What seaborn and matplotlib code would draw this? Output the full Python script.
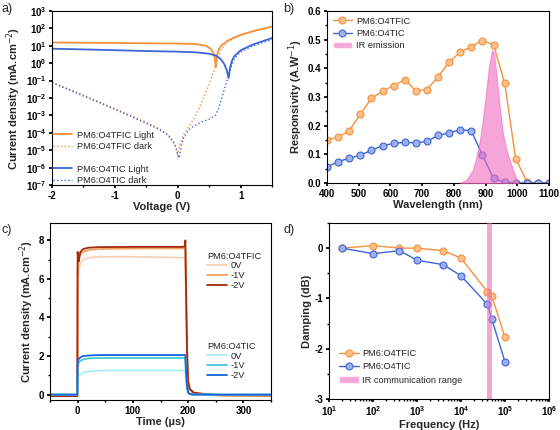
import numpy as np
import pandas as pd
import matplotlib
matplotlib.use('Agg')
import matplotlib.pyplot as plt
import seaborn as sns
from matplotlib.lines import Line2D
from matplotlib.patches import Patch
from matplotlib.ticker import LogLocator, MultipleLocator, NullFormatter

# ---------------- a) J-V curves (log scale) ----------------
v_tfic_light = [-2, -1.5, -1, -0.5, 0, 0.3, 0.45, 0.52, 0.56, 0.59, 0.605, 0.62, 0.65, 0.7, 0.8, 0.9, 1.0, 1.2, 1.5]
j_tfic_light = [15.5, 15, 14.5, 14, 13.5, 12.5, 10, 7, 4.5, 2, 0.6, 2.5, 6, 11, 20, 30, 42, 70, 128]
v_tfic_dark = [-2, -1.75, -1.5, -1.25, -1, -0.75, -0.5, -0.3, -0.15, -0.06, -0.02, 0.0, 0.02, 0.06, 0.1, 0.2, 0.3,
               0.4, 0.5, 0.55, 0.6, 0.65, 0.7, 0.8, 1.0, 1.2, 1.5]
j_tfic_dark = [0.08, 0.035, 0.015, 0.006, 0.0025, 0.001, 4e-4, 1.8e-4, 8e-5, 3e-5, 1.2e-5, 5e-6, 1.2e-5, 4e-5, 9e-5,
               3e-4, 1.2e-3, 8e-3, 0.06, 0.2, 0.6, 2.5, 7, 18, 40, 66, 120]
v_tic_light = [-2, -1.5, -1, -0.5, 0, 0.3, 0.5, 0.6, 0.68, 0.74, 0.78, 0.81, 0.83, 0.86, 0.9, 1.0, 1.2, 1.5]
j_tic_light = [6.8, 6.2, 5.6, 5.0, 4.6, 4.2, 3.5, 2.8, 1.8, 0.9, 0.4, 0.14, 0.5, 1.3, 2.5, 5.5, 12, 28]
v_tic_dark = [-2, -1.75, -1.5, -1.25, -1, -0.75, -0.5, -0.3, -0.15, -0.06, -0.02, 0.02, 0.06, 0.1, 0.2, 0.3, 0.4,
              0.5, 0.6, 0.65, 0.7, 0.75, 0.8, 0.85, 0.9, 1.0, 1.2, 1.5]
j_tic_dark = [0.075, 0.032, 0.013, 0.0055, 0.0022, 9e-4, 3.5e-4, 1.6e-4, 7e-5, 2.5e-5, 1e-5, 3.5e-6, 2e-5, 6e-5,
              1.8e-4, 3e-4, 4.5e-4, 6e-4, 1e-3, 2.5e-3, 1e-2, 0.04, 0.15, 0.6, 1.8, 4.5, 10, 22]

# ---------------- b) responsivity ----------------
wl = [400, 435, 470, 505, 540, 575, 610, 645, 680, 715, 750, 785, 820, 855, 890, 925, 960, 995, 1030, 1065, 1100]
r_tfic = [0.15, 0.16, 0.182, 0.24, 0.295, 0.32, 0.34, 0.36, 0.322, 0.326, 0.37, 0.422, 0.456, 0.476, 0.497, 0.482,
          0.35, 0.085, 0.005, 0.0, 0.0]
r_tic = [0.055, 0.075, 0.086, 0.097, 0.114, 0.13, 0.138, 0.142, 0.14, 0.145, 0.166, 0.175, 0.186, 0.182, 0.098,
         0.016, 0.003, 0.0, 0.0, 0.0, 0.0]
ir_wl = [820, 840, 860, 870, 880, 890, 900, 910, 920, 927, 935, 945, 955, 965, 975, 985, 995, 1005]
ir_em = [0.0, 0.012, 0.045, 0.085, 0.135, 0.21, 0.3, 0.4, 0.465, 0.45, 0.37, 0.26, 0.17, 0.12, 0.085, 0.05, 0.02, 0.0]

# ---------------- c) transient photocurrent ----------------
t_on = [-50, -0.5, 0, 1, 2, 5, 10, 20, 40, 100, 190, 194, 195, 196, 198, 200, 203, 210, 230, 260, 350]
j_tfic_0v = [-0.05, -0.05, 5.0, 6.0, 6.5, 6.8, 7.0, 7.1, 7.15, 7.15, 7.1, 7.1, 7.0, 5.0, 2.0, 0.5, 0.2, 0.08, 0.0, -0.05, -0.05]
j_tfic_1v = [-0.05, -0.05, 6.5, 7.0, 7.1, 7.3, 7.4, 7.5, 7.55, 7.58, 7.58, 7.6, 7.5, 5.5, 2.2, 0.6, 0.25, 0.1, 0.02, -0.05, -0.05]
j_tfic_2v = [-0.08, -0.08, 7.4, 7.1, 6.9, 7.4, 7.55, 7.62, 7.65, 7.66, 7.66, 7.7, 8.0, 6.0, 2.4, 0.7, 0.3, 0.1, 0.03, -0.03, -0.05]
j_tic_0v = [0.0, 0.0, 0.6, 0.85, 0.95, 1.05, 1.15, 1.2, 1.25, 1.25, 1.25, 1.25, 1.2, 0.8, 0.3, 0.08, 0.02, 0.0, 0.0, 0.0, 0.0]
j_tic_1v = [0.0, 0.0, 1.4, 1.55, 1.65, 1.75, 1.82, 1.88, 1.9, 1.9, 1.9, 1.9, 1.85, 1.2, 0.4, 0.1, 0.03, 0.0, 0.0, 0.0, 0.0]
j_tic_2v = [0.0, 0.0, 1.7, 1.78, 1.85, 1.93, 2.0, 2.03, 2.05, 2.05, 2.05, 2.07, 2.0, 1.3, 0.45, 0.12, 0.03, 0.0, 0.0, 0.0, 0.0]

# ---------------- d) damping vs frequency ----------------
freq = [20, 100, 400, 1000, 4000, 10000, 40000, 50000, 100000]
damp_tfic = [0.0, 0.05, 0.0, 0.0, -0.05, -0.2, -0.87, -0.95, -1.77]
damp_tic = [0.0, -0.11, -0.05, -0.24, -0.33, -0.55, -1.12, -1.41, -2.26]
ir_band = (38000, 50000)

orange = '#f5913c'
blue = '#3f66d6'
pink = '#f06ac0'
o_face = '#fcc08a'
b_face = '#9fb0f2'

sns.set_theme(style='ticks')
plt.rcParams['font.family'] = ['Liberation Sans', 'DejaVu Sans']
plt.rcParams['axes.linewidth'] = 0.8
plt.rcParams['axes.unicode_minus'] = False
plt.rcParams['xtick.labelsize'] = 7
plt.rcParams['ytick.labelsize'] = 7
plt.rcParams['xtick.major.size'] = 2.5
plt.rcParams['ytick.major.size'] = 2.5
plt.rcParams['xtick.minor.size'] = 1.3
plt.rcParams['ytick.minor.size'] = 1.3
plt.rcParams['xtick.major.pad'] = 1.5
plt.rcParams['ytick.major.pad'] = 1.5

W, H = 560, 430
fig = plt.figure(figsize=(W / 100, H / 100), dpi=100)


def box(l, r, t, b):
    return fig.add_axes([l / W, (H - b) / H, (r - l) / W, (b - t) / H])


def style(ax, xlabel, ylabel):
    ax.set_xlabel(xlabel, fontsize=8, fontweight='bold', labelpad=1)
    ax.set_ylabel(ylabel, fontsize=8, fontweight='bold', labelpad=2)
    for lab in ax.get_xticklabels() + ax.get_yticklabels():
        lab.set_fontweight('bold')
    ax.tick_params(which='both', direction='out', colors='black')
    for s in ax.spines.values():
        s.set_color('black')


def mk(color, face):
    return dict(color=color, lw=1.0, marker='o', markersize=5, markerfacecolor=face,
                markeredgecolor=color, markeredgewidth=0.8)


# ---- a
ax = box(52, 272, 11, 185)
sns.lineplot(x=v_tfic_light, y=j_tfic_light, ax=ax, color=orange, lw=1.3)
sns.lineplot(x=v_tfic_dark, y=j_tfic_dark, ax=ax, color=orange, lw=1.0, ls=':')
sns.lineplot(x=v_tic_light, y=j_tic_light, ax=ax, color=blue, lw=1.3)
sns.lineplot(x=v_tic_dark, y=j_tic_dark, ax=ax, color=blue, lw=1.0, ls=':')
ax.set_yscale('log')
ax.set_ylim(1e-7, 1e3)
ax.set_xlim(-2, 1.5)
ax.yaxis.set_major_locator(LogLocator(base=10, numticks=12))
ax.yaxis.set_minor_locator(LogLocator(base=10, subs=[], numticks=12))
ax.xaxis.set_major_locator(MultipleLocator(1))
ax.xaxis.set_minor_locator(MultipleLocator(0.5))
handles = [Line2D([], [], color=orange, lw=1.3), Line2D([], [], color=orange, lw=1.0, ls=':'),
           Line2D([], [], color='none'),
           Line2D([], [], color=blue, lw=1.3), Line2D([], [], color=blue, lw=1.0, ls=':')]
labels = ['PM6:O4TFIC Light', 'PM6:O4TFIC dark', '', 'PM6:O4TIC Light', 'PM6:O4TIC dark']
ax.legend(handles, labels, loc='lower left', bbox_to_anchor=(0.0, -0.005), frameon=False, fontsize=6.7,
          handlelength=2.1, handletextpad=0.5, labelspacing=0.25, borderaxespad=0.0, borderpad=0.1)
style(ax, 'Voltage (V)', 'Current density (mA.cm$^{-2}$)')

# ---- b
ax = box(327, 549, 11, 183)
sns.lineplot(x=wl, y=r_tfic, ax=ax, **mk(orange, o_face))
sns.lineplot(x=wl, y=r_tic, ax=ax, **mk(blue, b_face))
ax.fill_between(ir_wl, ir_em, color=pink, alpha=0.6, lw=0.8, zorder=3)
ax.set_xlim(400, 1100)
ax.set_ylim(0, 0.6)
ax.xaxis.set_major_locator(MultipleLocator(100))
ax.yaxis.set_major_locator(MultipleLocator(0.1))
ax.yaxis.set_minor_locator(MultipleLocator(0.05))
handles = [Line2D([], [], **mk(orange, o_face)), Line2D([], [], **mk(blue, b_face)),
           Patch(facecolor=pink, alpha=0.6)]
ax.legend(handles, ['PM6:O4TFIC', 'PM6:O4TIC', 'IR emission'], loc='upper left', frameon=False, fontsize=6.7,
          handlelength=2.1, handletextpad=0.4, labelspacing=0.35, borderaxespad=0.4, borderpad=0.2)
style(ax, 'Wavelength (nm)', 'Responsivity (A.W$^{-1}$)')

# ---- c
ax = box(50, 271, 223, 400)
c_tfic = ['#f8cfae', '#f5a060', '#a2290a']
c_tic = ['#a8eef5', '#45c8dc', '#1565e0']
for y, c in zip([j_tfic_0v, j_tfic_1v, j_tfic_2v], c_tfic):
    sns.lineplot(x=t_on, y=y, ax=ax, color=c, lw=1.3)
for y, c in zip([j_tic_0v, j_tic_1v, j_tic_2v], c_tic):
    sns.lineplot(x=t_on, y=y, ax=ax, color=c, lw=1.3)
ax.set_xlim(-50, 350)
ax.set_ylim(-0.28, 8.9)
ax.xaxis.set_major_locator(MultipleLocator(100))
ax.xaxis.set_minor_locator(MultipleLocator(50))
ax.yaxis.set_major_locator(MultipleLocator(2))
ax.yaxis.set_minor_locator(MultipleLocator(1))
leg_kw = dict(loc='upper left', frameon=False, fontsize=6.7, title_fontsize=6.7, handlelength=2.1,
              handletextpad=0.4, labelspacing=0.08, borderpad=0.1, alignment='left')
leg1 = ax.legend([Line2D([], [], color=c, lw=1.3) for c in c_tfic], ['0V', '-1V', '-2V'],
                 title='PM6:O4TFIC', bbox_to_anchor=(0.685, 0.87), **leg_kw)
ax.add_artist(leg1)
ax.legend([Line2D([], [], color=c, lw=1.3) for c in c_tic], ['0V', '-1V', '-2V'],
          title='PM6:O4TIC', bbox_to_anchor=(0.685, 0.36), **leg_kw)
style(ax, 'Time (\u00b5s)', 'Current density (mA.cm$^{-2}$)')

# ---- d
ax = box(329, 549, 223, 399)
sns.lineplot(x=freq, y=damp_tfic, ax=ax, **mk(orange, o_face))
sns.lineplot(x=freq, y=damp_tic, ax=ax, **mk(blue, b_face))
ax.axvspan(ir_band[0], ir_band[1], color=pink, alpha=0.6, lw=0, zorder=3)
ax.set_xscale('log')
ax.set_xlim(10, 1e6)
ax.set_ylim(-3, 0.5)
ax.xaxis.set_major_locator(LogLocator(base=10, numticks=8))
ax.xaxis.set_minor_locator(LogLocator(base=10, subs=np.arange(2, 10), numticks=8))
ax.xaxis.set_minor_formatter(NullFormatter())
ax.yaxis.set_major_locator(MultipleLocator(1))
ax.yaxis.set_minor_locator(MultipleLocator(0.5))
handles = [Line2D([], [], **mk(orange, o_face)), Line2D([], [], **mk(blue, b_face)),
           Patch(facecolor=pink, alpha=0.6)]
ax.legend(handles, ['PM6:O4TFIC', 'PM6:O4TIC', 'IR communication range'], loc='lower left',
          bbox_to_anchor=(0.02, 0.05), frameon=False, fontsize=6.7, handlelength=2.1, handletextpad=0.4,
          labelspacing=0.45, borderpad=0.1)
style(ax, 'Frequency (Hz)', 'Damping (dB)')

for lab, x, y in [('a)', 2, 3), ('b)', 283, 3), ('c)', 2, 224), ('d)', 283, 224)]:
    fig.text(x / W, 1 - y / H, lab, fontsize=9, va='top', ha='left')

fig.savefig('out.png', dpi=100)
